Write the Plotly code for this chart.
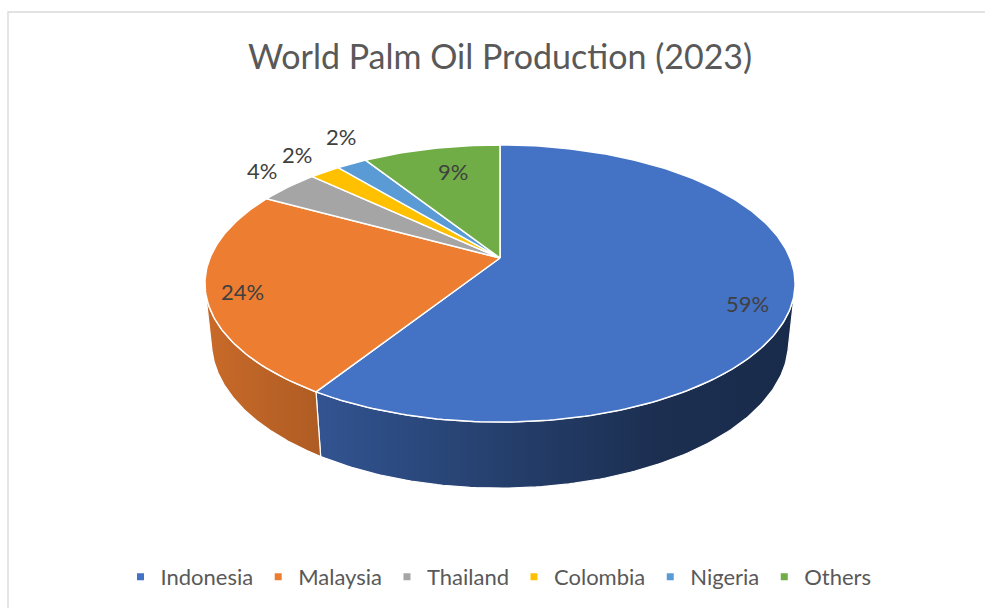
import math
import numpy as np
import plotly.graph_objects as go

# ---- data -------------------------------------------------------------
countries = ["Indonesia", "Malaysia", "Thailand", "Colombia", "Nigeria", "Others"]
shares = [59, 24, 4, 2, 2, 9]
colors = ["#4472C4", "#ED7D31", "#A5A5A5", "#FFC000", "#5B9BD5", "#70AD47"]
title_text = "World Palm Oil Production (2023)"

# ---- layout / projection settings (axes are in pixel units) ----------
W, H = 985, 608
CX, CY = 500, 258          # projected centre of the pie top
SCALE = 290                # projected radius
TILT = math.radians(27.5)  # camera elevation
PERSP = 0.2075             # radius / camera distance
THICK = 0.229              # pie thickness / radius
FONT = "Lato"

# per-label nudges (px) applied after placing labels along the mid angle
label_nudge = [(0, 12), (-9, 4), (2, -7), (-5, -6), (8, -15), (13, 9)]

# shading of the side wall as a function of screen x
shade_x = [205, 317, 500, 650, 795]
shade_k = [0.85, 0.74, 0.56, 0.42, 0.38]


def project(theta, frac=1.0, height=0.0):
    """Perspective projection of a point on the pie (theta clockwise from back)."""
    theta = np.asarray(theta, dtype=float)
    X = frac * np.sin(theta)
    Z = frac * np.cos(theta)
    depth = 1 + PERSP * (-height * math.sin(TILT) + Z * math.cos(TILT))
    x = CX + SCALE * X / depth
    y = CY - SCALE * (height * math.cos(TILT) + Z * math.sin(TILT)) / depth
    return x, y


def hex_rgb(c):
    c = c.lstrip("#")
    return [int(c[i:i + 2], 16) for i in (0, 2, 4)]


def shaded(c, k):
    r, g, b = hex_rgb(c)
    return f"rgb({int(r * k)},{int(g * k)},{int(b * k)})"


total = float(sum(shares))
bounds = np.concatenate([[0], np.cumsum(shares)]) / total * 2 * math.pi

fig = go.Figure()

# side walls (only the front-facing part of the cylinder)
vis = math.acos(-PERSP / math.cos(TILT))
for name, col, a0, a1 in zip(countries, colors, bounds[:-1], bounds[1:]):
    s0, s1 = max(a0, vis), min(a1, 2 * math.pi - vis)
    if s1 <= s0:
        continue
    th = np.linspace(s0, s1, 120)
    xt, yt = project(th)
    xb, yb = project(th[::-1], 1.0, -THICK)
    xs = np.concatenate([xt, xb, xt[:1]])
    ys = np.concatenate([yt, yb, yt[:1]])
    x0, x1 = float(xs.min()), float(xs.max())
    stops = np.linspace(0, 1, 8)
    cscale = [[float(t), shaded(col, float(np.interp(x0 + t * (x1 - x0), shade_x, shade_k)))]
              for t in stops]
    fig.add_trace(go.Scatter(
        x=xs, y=ys, mode="lines", fill="toself",
        fillgradient=dict(type="horizontal", colorscale=cscale, start=x0, stop=x1),
        line=dict(color="white", width=1.2),
        hoverinfo="skip", showlegend=False,
    ))

# top face slices
for name, col, v, a0, a1 in zip(countries, colors, shares, bounds[:-1], bounds[1:]):
    n = max(8, int((a1 - a0) / (2 * math.pi) * 360))
    th = np.linspace(a0, a1, n)
    xr, yr = project(th)
    cx0, cy0 = project(0.0, 0.0)
    xs = np.concatenate([[cx0], xr, [cx0]])
    ys = np.concatenate([[cy0], yr, [cy0]])
    fig.add_trace(go.Scatter(
        x=xs, y=ys, mode="lines", fill="toself", fillcolor=col,
        line=dict(color="white", width=1.5),
        name=name, hoverinfo="name", showlegend=False,
    ))

# data labels
for v, a0, a1, (dx, dy) in zip(shares, bounds[:-1], bounds[1:], label_nudge):
    mid = (a0 + a1) / 2
    pct = v / total * 100
    frac = 0.85 if pct >= 5 else 1.15
    lx, ly = project(mid, frac)
    fig.add_annotation(
        x=float(lx) + dx, y=float(ly) + dy, text=f"{pct:.0f}%",
        showarrow=False, xanchor="center", yanchor="middle",
        font=dict(family=FONT, size=22, color="#404040"),
    )

# title
fig.add_annotation(
    x=CX, y=55, text=title_text, showarrow=False,
    xanchor="center", yanchor="middle",
    font=dict(family=FONT, size=34, color="#595959"),
)

# legend entries
for name, col in zip(countries, colors):
    fig.add_trace(go.Scatter(
        x=[None], y=[None], mode="markers", name=name,
        marker=dict(symbol="square", size=7, color=col),
    ))

# chart frame
fig.add_shape(type="rect", x0=8, y0=12, x1=W + 10, y1=H + 10,
              line=dict(color="#D9D9D9", width=1.3), layer="below")

fig.update_layout(
    width=W, height=H, autosize=False,
    margin=dict(l=0, r=0, t=0, b=0),
    paper_bgcolor="white", plot_bgcolor="white",
    xaxis=dict(range=[0, W], visible=False, fixedrange=True),
    yaxis=dict(range=[H, 0], visible=False, fixedrange=True),
    showlegend=True,
    legend=dict(
        orientation="h", x=0.5 + 6 / W, xanchor="center", y=1 - 577 / H, yanchor="middle",
        font=dict(family=FONT, size=22, color="#595959"),
        itemclick=False, itemdoubleclick=False,
    ),
    font=dict(family=FONT),
)

fig.write_html("out.html", post_script="document.body.style.margin='0';")
